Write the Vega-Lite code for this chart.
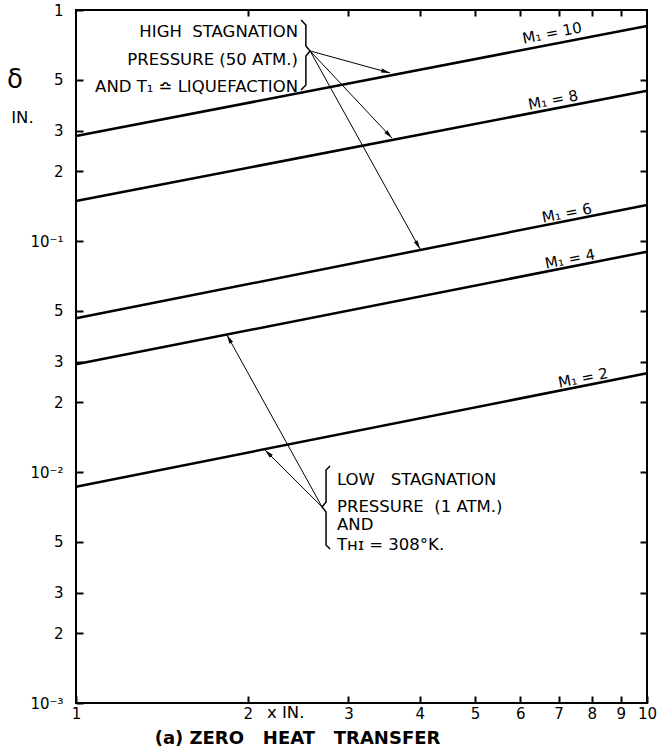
{
  "$schema": "https://vega.github.io/schema/vega-lite/v6.json",
  "width": 571,
  "height": 693,
  "autosize": {"type": "none"},
  "padding": {"left": 76, "top": 10, "right": 11, "bottom": 53},
  "background": "white",
  "config": {
    "view": {"stroke": "black", "strokeWidth": 2},
    "font": "DejaVu Sans",
    "axis": {"domain": false, "tickColor": "black", "tickWidth": 2, "tickSize": 7, "offset": -7, "labelColor": "black", "grid": false, "labelFont": "DejaVu Sans", "labelFontSize": 15}
  },
  "title": {"text": "(a) ZERO\u00a0\u00a0 HEAT\u00a0\u00a0 TRANSFER", "orient": "bottom", "frame": "group", "anchor": "middle", "dx": -64, "offset": 8, "fontSize": 18, "fontWeight": "bold", "font": "DejaVu Sans", "color": "black"},
  "datasets": {
    "lines": [
      {"M": "10", "x": 1, "y": 0.2846}, {"M": "10", "x": 10, "y": 0.853},
      {"M": "8", "x": 1, "y": 0.149}, {"M": "8", "x": 10, "y": 0.447},
      {"M": "6", "x": 1, "y": 0.0463}, {"M": "6", "x": 10, "y": 0.1432},
      {"M": "4", "x": 1, "y": 0.02925}, {"M": "4", "x": 10, "y": 0.0899},
      {"M": "2", "x": 1, "y": 0.00864}, {"M": "2", "x": 10, "y": 0.02676}
    ],
    "labels": [
      {"t": "M₁ = 10", "x": 6.82, "y": 0.795},
      {"t": "M₁ = 8", "x": 6.85, "y": 0.4077},
      {"t": "M₁ = 6", "x": 7.24, "y": 0.1322},
      {"t": "M₁ = 4", "x": 7.33, "y": 0.0836},
      {"t": "M₁ = 2", "x": 7.73, "y": 0.02553}
    ],
    "arrows": [
      {"x": 2.57, "y": 0.665, "x2": 3.548, "y2": 0.534},
      {"x": 2.57, "y": 0.665, "x2": 3.576, "y2": 0.279},
      {"x": 2.57, "y": 0.665, "x2": 4.004, "y2": 0.0923},
      {"x": 2.697, "y": 0.00706, "x2": 1.838, "y2": 0.0392},
      {"x": 2.697, "y": 0.00706, "x2": 2.143, "y2": 0.01245}
    ],
    "braces": [
      {"b": "hi", "o": 1, "x": 2.478, "y": 0.905}, {"b": "hi", "o": 2, "x": 2.527, "y": 0.861},
      {"b": "hi", "o": 3, "x": 2.527, "y": 0.699}, {"b": "hi", "o": 4, "x": 2.57, "y": 0.665},
      {"b": "hi", "o": 5, "x": 2.527, "y": 0.632}, {"b": "hi", "o": 6, "x": 2.527, "y": 0.4735},
      {"b": "hi", "o": 7, "x": 2.478, "y": 0.4505},
      {"b": "lo", "o": 1, "x": 2.785, "y": 0.01062}, {"b": "lo", "o": 2, "x": 2.741, "y": 0.0102},
      {"b": "lo", "o": 3, "x": 2.741, "y": 0.00742}, {"b": "lo", "o": 4, "x": 2.697, "y": 0.00706},
      {"b": "lo", "o": 5, "x": 2.741, "y": 0.00671}, {"b": "lo", "o": 6, "x": 2.741, "y": 0.00483},
      {"b": "lo", "o": 7, "x": 2.785, "y": 0.00464}
    ],
    "hinotes": [
      {"t": "HIGH\u00a0\u00a0STAGNATION", "x": 2.448, "y": 0.803},
      {"t": "PRESSURE (50 ATM.)", "x": 2.448, "y": 0.608},
      {"t": "AND T₁ ≏ LIQUEFACTION", "x": 2.448, "y": 0.464}
    ],
    "lonotes": [
      {"t": "LOW\u00a0\u00a0 STAGNATION", "x": 2.865, "y": 0.00923},
      {"t": "PRESSURE\u00a0\u00a0(1 ATM.)", "x": 2.865, "y": 0.00706},
      {"t": "AND", "x": 2.865, "y": 0.0059},
      {"t": "Tʜɪ = 308°K.", "x": 2.865, "y": 0.00483},
      {"t": "IN.", "x": 0.77, "y": 0.3407},
      {"t": "x IN.", "x": 2.16, "y": 0.000905}
    ],
    "delta": [{"t": "δ", "x": 0.782, "y": 0.4977}]
  },
  "layer": [
    {
      "data": {"name": "lines"},
      "mark": {"type": "line", "color": "black", "strokeWidth": 2.5},
      "encoding": {
        "x": {"field": "x", "type": "quantitative", "scale": {"type": "log", "domain": [1, 10], "nice": false},
          "axis": {"orient": "bottom", "title": null, "values": [1, 2, 3, 4, 5, 6, 7, 8, 9, 10], "labelPadding": 3, "labelExpr": "format(datum.value, 'd')", "labelFlush": false, "labelOverlap": false}},
        "y": {"field": "y", "type": "quantitative", "scale": {"type": "log", "domain": [0.001, 1], "nice": false},
          "axis": {"orient": "left", "title": null, "values": [0.001, 0.002, 0.003, 0.005, 0.01, 0.02, 0.03, 0.05, 0.1, 0.2, 0.3, 0.5, 1], "labelPadding": 13, "labelOverlap": false, "labelFlush": false,
            "labelExpr": "datum.value > 0.9 ? '1' : abs(datum.value - 0.1) < 1e-9 ? '10⁻¹' : abs(datum.value - 0.01) < 1e-10 ? '10⁻²' : abs(datum.value - 0.001) < 1e-11 ? '10⁻³' : format(datum.value / pow(10, floor(log(datum.value) / LN10 + 1e-9)), '.0f')"}},
        "detail": {"field": "M"}
      }
    },
    {
      "data": {"name": "arrows"},
      "mark": {"type": "rule", "color": "black", "strokeWidth": 1},
      "encoding": {
        "x": {"field": "x", "type": "quantitative", "scale": {"type": "log", "domain": [1, 10], "nice": false},
          "axis": {"orient": "top", "title": null, "labels": false, "values": [2, 3, 4, 5, 6, 7, 8, 9], "tickSize": 6, "offset": -6}},
        "y": {"field": "y", "type": "quantitative", "scale": {"type": "log", "domain": [0.001, 1], "nice": false},
          "axis": {"orient": "right", "title": null, "labels": false, "values": [0.002, 0.003, 0.005, 0.01, 0.02, 0.03, 0.05, 0.1, 0.2, 0.3, 0.5]}},
        "x2": {"field": "x2"},
        "y2": {"field": "y2"}
      }
    },
    {
      "data": {"name": "arrows"},
      "transform": [{"calculate": "atan2((log(datum.x2) - log(datum.x)) / LN10 * 571, (log(datum.y2) - log(datum.y)) / LN10 * 231) * 180 / PI", "as": "ang"}],
      "mark": {"type": "point", "shape": "M0,0L0.35,1.5L-0.35,1.5Z", "filled": true, "color": "black", "size": 140, "opacity": 1},
      "encoding": {
        "x": {"field": "x2", "type": "quantitative", "axis": null},
        "y": {"field": "y2", "type": "quantitative", "axis": null},
        "angle": {"field": "ang", "type": "quantitative", "scale": null}
      }
    },
    {
      "data": {"name": "braces"},
      "mark": {"type": "line", "color": "black", "strokeWidth": 1.5},
      "encoding": {
        "x": {"field": "x", "type": "quantitative", "axis": null},
        "y": {"field": "y", "type": "quantitative", "axis": null},
        "detail": {"field": "b"},
        "order": {"field": "o"}
      }
    },
    {
      "data": {"name": "labels"},
      "mark": {"type": "text", "angle": -11, "fontSize": 15, "align": "center", "baseline": "middle", "color": "black"},
      "encoding": {
        "x": {"field": "x", "type": "quantitative", "axis": null},
        "y": {"field": "y", "type": "quantitative", "axis": null},
        "text": {"field": "t"}
      }
    },
    {
      "data": {"name": "hinotes"},
      "mark": {"type": "text", "fontSize": 16.5, "align": "right", "baseline": "middle", "color": "black"},
      "encoding": {
        "x": {"field": "x", "type": "quantitative", "axis": null},
        "y": {"field": "y", "type": "quantitative", "axis": null},
        "text": {"field": "t"}
      }
    },
    {
      "data": {"name": "lonotes"},
      "mark": {"type": "text", "fontSize": 16.5, "align": "left", "baseline": "middle", "color": "black"},
      "encoding": {
        "x": {"field": "x", "type": "quantitative", "axis": null},
        "y": {"field": "y", "type": "quantitative", "axis": null},
        "text": {"field": "t"}
      }
    },
    {
      "data": {"name": "delta"},
      "mark": {"type": "text", "fontSize": 26, "align": "center", "baseline": "middle", "color": "black"},
      "encoding": {
        "x": {"field": "x", "type": "quantitative", "axis": null},
        "y": {"field": "y", "type": "quantitative", "axis": null},
        "text": {"field": "t"}
      }
    }
  ],
  "resolve": {"axis": {"x": "independent", "y": "independent"}}
}
